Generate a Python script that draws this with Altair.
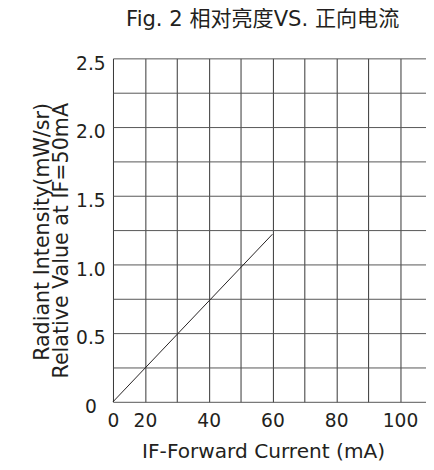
import altair as alt
import pandas as pd

# x positions are grid-column indices; the printed tick labels sit on them
x_grid = [0, 1, 2, 3, 4, 5, 6, 7, 8, 9]
x_tick_pos = [0, 1, 3, 5, 7, 9]
x_tick_labels = ["0", "20", "40", "60", "80", "100"]

y_grid = [0, 0.25, 0.5, 0.75, 1.0, 1.25, 1.5, 1.75, 2.0, 2.25, 2.5]
y_tick_pos = [0, 0.5, 1.0, 1.5, 2.0, 2.5]
y_tick_labels = ["0", "0.5", "1.0", "1.5", "2.0", "2.5"]

curve_x = [0, 5]
curve_y = [0, 1.22]

df = pd.DataFrame({"x": curve_x, "y": curve_y})


def label_expr(pos, labels):
    expr = "''"
    for p, l in reversed(list(zip(pos, labels))):
        expr = f"(abs(datum.value - {p}) < 0.001 ? '{l}' : {expr})"
    return expr


TXT = "#231f20"
FONT = "DejaVu Sans"

x_axis = alt.Axis(
    values=x_grid,
    labelExpr=label_expr(x_tick_pos, x_tick_labels),
    domain=False, ticks=False,
    grid=True, gridColor="#333333", gridWidth=1,
    labelFont=FONT, labelFontSize=19, labelColor=TXT,
    labelBaseline="alphabetic", labelPadding=25,
    labelOverlap=False, labelFlush=False, labelBound=False,
    title="IF-Forward Current (mA)",
    titleFont=FONT, titleFontSize=20.5, titleFontWeight="normal", titleColor=TXT,
    titleBaseline="alphabetic", titleX=153, titleY=57, titleAlign="center",
)

y_axis = alt.Axis(
    values=y_grid,
    labelExpr=label_expr(y_tick_pos, y_tick_labels),
    domain=False, ticks=False,
    grid=True, gridColor="#555555", gridWidth=1,
    labelFont=FONT, labelFontSize=19, labelColor=TXT,
    labelAlign="center", labelBaseline="middle", labelPadding=23, labelOffset=5,
    labelOverlap=False, labelFlush=False, labelBound=False,
    title=["Radiant Intensity(mW/sr)", "Relative Value at IF=50mA"],
    titleFont=FONT, titleFontSize=21, titleFontWeight="normal", titleColor=TXT,
    titleAngle=270, titleAlign="right", titleBaseline="alphabetic",
    titleX=-66, titleY=45, titleLineHeight=20,
)

chart = (
    alt.Chart(df)
    .mark_line(color=TXT, strokeWidth=1)
    .encode(
        x=alt.X("x:Q", scale=alt.Scale(domain=[0, 9.815], nice=False, zero=False), axis=x_axis),
        y=alt.Y("y:Q", scale=alt.Scale(domain=[0, 2.5], nice=False), axis=y_axis),
    )
    .properties(
        width=319,
        height=350,
        autosize=alt.AutoSizeParams(type="none"),
        padding={"left": 107, "top": 47, "right": 0, "bottom": 57},
        title=alt.TitleParams(
            "Fig. 2 相对亮度VS. 正向电流",
            font="DejaVu Sans, Noto Sans CJK SC",
            fontSize=21.5, fontWeight="normal", color=TXT,
            frame="group", anchor="middle", baseline="alphabetic",
            offset=8, dx=-7,
        ),
    )
    .configure_view(strokeWidth=0)
)

chart.save("out.html", embed_options={"renderer": "svg", "actions": False})
